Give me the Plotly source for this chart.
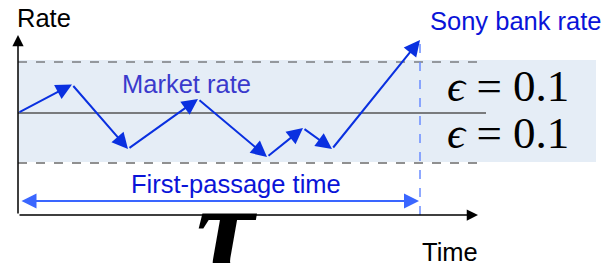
import plotly.graph_objects as go

# ---- data (arbitrary diagram units: time along x, rate along y) ----
path_time = [0, 54, 110, 180, 249, 285, 314, 402]
path_rate = [102, 130.5, 66, 116, 58, 87, 66, 175]

rate_mid = 102          # market reference level
rate_upper = 153        # mid + epsilon
rate_lower = 52         # mid - epsilon
band_top = 155
band_bottom = 53
band_end_time = 578
line_end_time = 468
lower_line_end_time = 462

passage_time = 402      # first-passage time (Sony bank rate hit)
passage_arrow_rate = 14

x_axis_end = 460
y_axis_end = 180

labels_eps = ["<i>ϵ</i> = 0.1", "<i>ϵ</i> = 0.1"]

fig = go.Figure()

# invisible trace to establish axes
fig.add_trace(go.Scatter(x=[0, 400], y=[0, 150], mode="markers",
                         marker=dict(opacity=0), hoverinfo="skip", showlegend=False))

shapes = []
shapes.append(dict(type="rect", xref="x", yref="y", x0=0, x1=band_end_time,
                   y0=band_bottom, y1=band_top, fillcolor="#e5edf6",
                   line=dict(width=0), layer="below"))
shapes.append(dict(type="line", xref="x", yref="y", x0=0, x1=line_end_time,
                   y0=rate_upper, y1=rate_upper, line=dict(color="#444", width=1.2, dash="dash")))
shapes.append(dict(type="line", xref="x", yref="y", x0=0, x1=lower_line_end_time,
                   y0=rate_lower, y1=rate_lower, line=dict(color="#222", width=1.2, dash="dash")))
shapes.append(dict(type="line", xref="x", yref="y", x0=0, x1=line_end_time,
                   y0=rate_mid, y1=rate_mid, line=dict(color="#555", width=1.6)))
shapes.append(dict(type="line", xref="x", yref="y", x0=passage_time, x1=passage_time,
                   y0=0, y1=path_rate[-1], line=dict(color="#6a8cff", width=1.5, dash="dash")))

annotations = []
annotations.append(dict(x=x_axis_end, y=0, ax=0, ay=0, xref="x", yref="y", axref="x", ayref="y",
                        text="", showarrow=True, arrowhead=2, arrowsize=1.5, arrowwidth=1.5,
                        arrowcolor="black", standoff=0))
annotations.append(dict(x=0, y=y_axis_end, ax=0, ay=0, xref="x", yref="y", axref="x", ayref="y",
                        text="", showarrow=True, arrowhead=2, arrowsize=1.5, arrowwidth=1.5,
                        arrowcolor="black", standoff=0))
for i in range(len(path_time) - 1):
    annotations.append(dict(x=path_time[i + 1], y=path_rate[i + 1], ax=path_time[i], ay=path_rate[i],
                            xref="x", yref="y", axref="x", ayref="y", text="", showarrow=True,
                            arrowhead=2, arrowsize=1.6, arrowwidth=2, arrowcolor="#0a30e0", standoff=0))
annotations.append(dict(x=passage_time - 1, y=passage_arrow_rate, ax=2, ay=passage_arrow_rate,
                        xref="x", yref="y", axref="x", ayref="y", text="", showarrow=True,
                        arrowhead=2, startarrowhead=2, arrowside="end+start", arrowsize=1.5,
                        startarrowsize=1.5, arrowwidth=2, arrowcolor="#3a66ff", standoff=0, startstandoff=0))

font_sans = "Liberation Sans, Arial, sans-serif"
fs = 25.5
annotations += [
    dict(x=26, y=197.5, xref="x", yref="y", text="Rate", showarrow=False,
         font=dict(family=font_sans, size=fs, color="black")),
    dict(x=498, y=194.5, xref="x", yref="y", text="Sony bank rate", showarrow=False,
         font=dict(family=font_sans, size=fs, color="#0a14d8")),
    dict(x=168, y=131, xref="x", yref="y", text="Market rate", showarrow=False,
         font=dict(family=font_sans, size=fs, color="#3a3acc")),
    dict(x=218, y=31, xref="x", yref="y", text="First-passage time", showarrow=False,
         font=dict(family=font_sans, size=fs, color="#0a14d8")),
    dict(x=432, y=-36.5, xref="x", yref="y", text="Time", showarrow=False,
         font=dict(family=font_sans, size=fs, color="black")),
    dict(x=208, y=-14, xref="x", yref="y", text="<b><i>τ</i></b>", showarrow=False,
         font=dict(family="Liberation Serif", size=130, color="black")),
    dict(x=489.5, y=129, xref="x", yref="y", text=labels_eps[0], showarrow=False,
         font=dict(family="Liberation Serif, DejaVu Serif, serif", size=45, color="black")),
    dict(x=489.5, y=82.5, xref="x", yref="y", text=labels_eps[1], showarrow=False,
         font=dict(family="Liberation Serif, DejaVu Serif, serif", size=45, color="black")),
]

# page body has an 8px margin: shift ranges so diagram sits where intended in the window
fig.update_layout(
    width=615, height=263, margin=dict(l=0, r=0, t=0, b=0),
    paper_bgcolor="white", plot_bgcolor="white",
    xaxis=dict(range=[-10, 605], visible=False, fixedrange=True),
    yaxis=dict(range=[-56, 207], visible=False, fixedrange=True),
    shapes=shapes, annotations=annotations, showlegend=False,
)

fig.write_html("out.html")
